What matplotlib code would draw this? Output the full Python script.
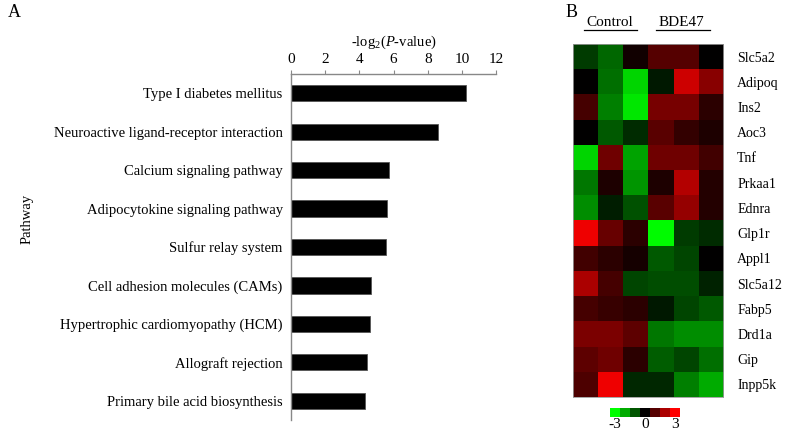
import numpy as np
import matplotlib
matplotlib.use('Agg')
import matplotlib.pyplot as plt
from matplotlib.colors import LinearSegmentedColormap
from matplotlib.lines import Line2D

plt.rcParams['font.family'] = ['Liberation Serif', 'DejaVu Serif']
plt.rcParams['mathtext.fontset'] = 'custom'
plt.rcParams['mathtext.rm'] = 'Liberation Serif'
plt.rcParams['mathtext.it'] = 'Liberation Serif:italic'

# panel A data
pathways = ['Type I diabetes mellitus',
            'Neuroactive ligand-receptor interaction',
            'Calcium signaling pathway',
            'Adipocytokine signaling pathway',
            'Sulfur relay system',
            'Cell adhesion molecules (CAMs)',
            'Hypertrophic cardiomyopathy (HCM)',
            'Allograft rejection',
            'Primary bile acid biosynthesis']
neglogp = [10.23, 8.61, 5.73, 5.63, 5.57, 4.68, 4.64, 4.43, 4.33]
xticks = [0, 2, 4, 6, 8, 10, 12]

# panel B data
genes = ['Slc5a2', 'Adipoq', 'Ins2', 'Aoc3', 'Tnf', 'Prkaa1', 'Ednra',
         'Glp1r', 'Appl1', 'Slc5a12', 'Fabp5', 'Drd1a', 'Gip', 'Inpp5k']
groups = ['Control', 'BDE47']
expr = [
    [-0.7, -1.2, 0.2, 1.0, 1.0, 0.0],
    [0.0, -1.3, -2.5, -0.3, 2.4, 1.6],
    [0.8, -1.5, -2.7, 1.4, 1.4, 0.5],
    [0.0, -1.05, -0.5, 1.05, 0.6, 0.35],
    [-2.5, 1.3, -1.9, 1.3, 1.3, 0.75],
    [-1.4, 0.35, -1.75, 0.35, 2.1, 0.4],
    [-1.65, -0.35, -0.95, 1.05, 1.75, 0.4],
    [2.8, 1.2, 0.5, -2.95, -0.7, -0.5],
    [0.75, 0.5, 0.25, -1.05, -0.8, 0.0],
    [2.0, 0.8, -0.8, -0.9, -0.9, -0.4],
    [0.8, 0.65, 0.5, -0.3, -0.8, -1.05],
    [1.45, 1.45, 1.1, -1.4, -1.65, -1.65],
    [1.1, 1.3, 0.5, -1.1, -0.8, -1.3],
    [0.9, 2.8, -0.45, -0.45, -1.5, -2.0],
]
scale_vals = [-3, -2, -1, 0, 1, 2, 3]
scale_labels = ['-3', '0', '3']

fs = 10.5
fig = plt.figure(figsize=(7.87, 4.32), dpi=100)

# ---- A: bar chart
ax = fig.add_axes([0.3698, 0.0278, 0.2605, 0.8009])
y = np.arange(len(pathways))
ax.barh(y, neglogp, height=0.42, color='black', edgecolor='#555555', linewidth=0.6)
ax.set_xlim(0, 12)
ax.set_ylim(len(pathways) - 0.5, -0.5)
ax.set_yticks(y)
ax.set_yticklabels(pathways, fontsize=fs)
ax.set_xticks(xticks)
ax.xaxis.tick_top()
ax.xaxis.set_label_position('top')
ax.set_xlabel(r'-log$_2$($P$-value)', fontsize=fs, labelpad=5)
ax.tick_params(axis='x', labelsize=11, length=3, color='#888888', pad=3)
ax.tick_params(axis='y', length=0, pad=6)
for s in ['right', 'bottom']:
    ax.spines[s].set_visible(False)
for s in ['top', 'left']:
    ax.spines[s].set_color('#888888')
    ax.spines[s].set_linewidth(1.0)
fig.text(0.034, 0.493, 'Pathway', rotation=90, ha='center', va='center', fontsize=fs)
fig.text(0.010, 0.970, 'A', fontsize=13, va='center')

# ---- B: heatmap
cmap = LinearSegmentedColormap.from_list('gkr', ['#00ff00', '#000000', '#ff0000'])
hx = fig.add_axes([0.7277, 0.0810, 0.1914, 0.8171])
hx.imshow(np.array(expr), cmap=cmap, vmin=-3, vmax=3, aspect='auto',
          interpolation='nearest')
hx.set_xticks([])
hx.set_yticks(np.arange(len(genes)))
hx.set_yticklabels(genes, fontsize=10)
hx.yaxis.tick_right()
hx.tick_params(axis='y', length=0, pad=10)
for s in hx.spines.values():
    s.set_color('#999999')
    s.set_linewidth(0.6)

fig.text(0.7751, 0.948, groups[0], ha='center', va='center', fontsize=11)
fig.text(0.8662, 0.948, groups[1], ha='center', va='center', fontsize=11)
fig.add_artist(Line2D([0.742, 0.809], [0.930, 0.930], color='black', lw=0.9))
fig.add_artist(Line2D([0.833, 0.902], [0.930, 0.930], color='black', lw=0.9))
fig.text(0.719, 0.970, 'B', fontsize=13, va='center')

# colour scale
cx = fig.add_axes([0.7751, 0.0347, 0.0889, 0.0208])
cx.imshow(np.array([scale_vals]), cmap=cmap, vmin=-3, vmax=3, aspect='auto')
cx.set_yticks([])
cx.set_xticks([0, 3, 6])
cx.set_xticklabels(scale_labels, fontsize=11)
cx.tick_params(axis='x', length=0, pad=1)
for s in cx.spines.values():
    s.set_visible(False)

fig.savefig('out.png', dpi=100)
